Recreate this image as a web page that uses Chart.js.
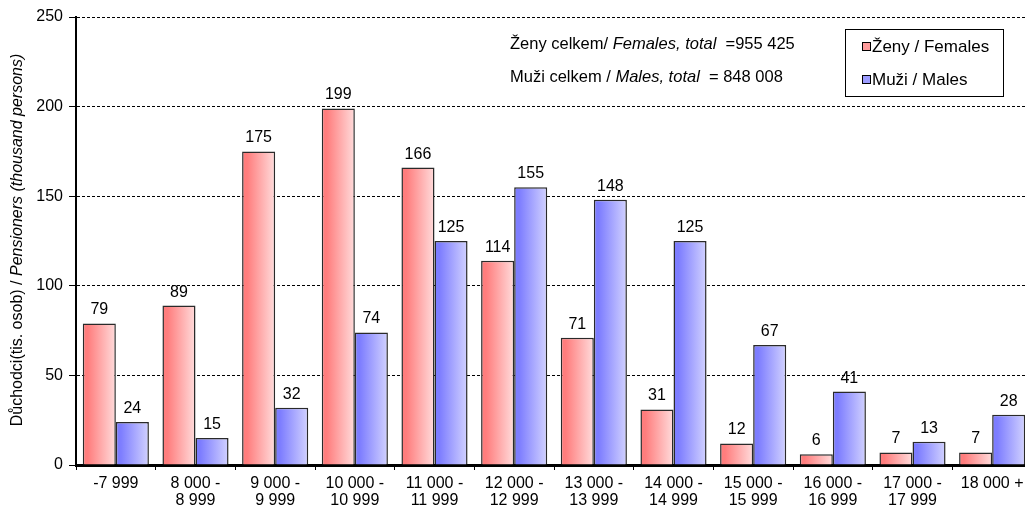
<!DOCTYPE html>
<html>
<head>
<meta charset="utf-8">
<script src="https://cdn.jsdelivr.net/npm/chart.js@4.4.1/dist/chart.umd.min.js"></script>
<style>
html, body { margin: 0; padding: 0; background: #fff; overflow: hidden; }
#wrap { width: 1040px; height: 506px; }
</style>
</head>
<body>
<div id="wrap"><canvas id="myChart"></canvas></div>
<script>
/*** Data ***/
const categories = [
    "-7 999", ["8 000 -", "8 999"], ["9 000 -", "9 999"], ["10 000 -", "10 999"],
    ["11 000 -", "11 999"], ["12 000 -", "12 999"], ["13 000 -", "13 999"], ["14 000 -", "14 999"],
    ["15 000 -", "15 999"], ["16 000 -", "16 999"], ["17 000 -", "17 999"], "18 000 +"
];
const females = [79, 89, 175, 199, 166, 114, 71, 31, 12, 6, 7, 7];
const males = [24, 15, 32, 74, 125, 155, 148, 125, 67, 41, 13, 28];
const yTicks = [0, 50, 100, 150, 200, 250];
const seriesNames = ["Ženy / Females", "Muži / Males"];
// [text, italic]
const yTitle = [["Důchodci(tis. osob) / ", false], ["Pensioners (thousand persons)", true]];
const totals = [
    [["Ženy celkem/ ", false], ["Females, total", true], ["  =955 425", false]],
    [["Muži celkem / ", false], ["Males, total", true], ["  = 848 008", false]]
];

const FONT = '"Liberation Sans", Arial, sans-serif';

/*** Plugins ***/
function drawSegments(ctx, segs, x, y, size) {
    segs.forEach(([txt, it]) => {
        ctx.font = (it ? "italic " : "") + size + "px " + FONT;
        ctx.fillText(txt, x, y);
        x += ctx.measureText(txt).width;
    });
}
function segWidth(ctx, segs, size) {
    let w = 0;
    segs.forEach(([txt, it]) => {
        ctx.font = (it ? "italic " : "") + size + "px " + FONT;
        w += ctx.measureText(txt).width;
    });
    return w;
}

const gradientBars = {
    id: "gradientBars",
    beforeDatasetsDraw(chart) {
        const ctx = chart.ctx;
        chart.data.datasets.forEach((ds, i) => {
            chart.getDatasetMeta(i).data.forEach(bar => {
                const g = ctx.createLinearGradient(bar.x - bar.width / 2, 0, bar.x + bar.width / 2, 0);
                g.addColorStop(0, ds.gradFrom);
                g.addColorStop(0.15, ds.gradFrom);
                g.addColorStop(1, ds.gradTo);
                bar.options = Object.assign({}, bar.options, { backgroundColor: g });
            });
        });
    }
};

const valueLabels = {
    id: "valueLabels",
    afterDatasetsDraw(chart) {
        const ctx = chart.ctx;
        ctx.save();
        ctx.font = "16px " + FONT;
        ctx.fillStyle = "#000";
        ctx.textAlign = "center";
        ctx.textBaseline = "alphabetic";
        chart.data.datasets.forEach((ds, i) => {
            chart.getDatasetMeta(i).data.forEach((bar, j) => {
                ctx.fillText(ds.data[j], bar.x, bar.y - 9);
            });
        });
        ctx.restore();
    }
};

const extras = {
    id: "extras",
    afterDraw(chart) {
        const ctx = chart.ctx;
        ctx.save();
        ctx.fillStyle = "#000";
        ctx.textBaseline = "middle";
        ctx.textAlign = "left";

        // y axis title
        ctx.save();
        ctx.translate(18, 240);
        ctx.rotate(-Math.PI / 2);
        const tw = segWidth(ctx, yTitle, 16);
        drawSegments(ctx, yTitle, -tw / 2, 0, 16);
        ctx.restore();

        // totals
        drawSegments(ctx, totals[0], 510, 44, 16.5);
        drawSegments(ctx, totals[1], 510, 77, 16.5);

        // legend
        ctx.lineWidth = 1;
        ctx.strokeStyle = "#000";
        ctx.strokeRect(845.5, 29.5, 158, 67);
        const ly = [47, 80];
        chart.data.datasets.forEach((ds, i) => {
            ctx.fillStyle = ds.legendColor;
            ctx.fillRect(862.5, ly[i] - 4.5, 8, 8);
            ctx.strokeRect(862.5, ly[i] - 4.5, 8, 8);
            ctx.fillStyle = "#000";
            ctx.font = "17px " + FONT;
            ctx.fillText(ds.label, 872, ly[i]);
        });
        ctx.restore();
    }
};

/*** Chart ***/
function renderChart() {
    const ctx = document.getElementById("myChart").getContext("2d");
    window.myChart = new Chart(ctx, {
        type: "bar",
        data: {
            labels: categories,
            datasets: [{
                label: seriesNames[0],
                data: females,
                gradFrom: "#ff7d7d",
                gradTo: "#ffdcdc",
                legendColor: "#ff9c9c",
                borderColor: "#2a2a2a",
                borderWidth: 1.5,
                borderSkipped: "bottom"
            }, {
                label: seriesNames[1],
                data: males,
                gradFrom: "#7d7dff",
                gradTo: "#d2d2ff",
                legendColor: "#9c9cff",
                borderColor: "#2a2a2a",
                borderWidth: 1.5,
                borderSkipped: "bottom"
            }]
        },
        options: {
            responsive: true,
            maintainAspectRatio: false,
            animation: false,
            datasets: { bar: { categoryPercentage: 0.83, barPercentage: 1.0 } },
            layout: { padding: { left: 0, top: 17, right: 8, bottom: 0 } },
            plugins: { legend: { display: false }, tooltip: { enabled: false } },
            scales: {
                x: {
                    afterFit(scale) { scale.height = 41; },
                    grid: { display: true, drawOnChartArea: false, drawTicks: true, offset: true, tickLength: 5, tickColor: "#000", tickWidth: 1 },
                    border: { display: true, color: "#000", width: 3 },
                    ticks: { color: "#000", font: { family: FONT, size: 16, lineHeight: 1.08 }, padding: 5, maxRotation: 0, autoSkip: false }
                },
                y: {
                    min: 0,
                    max: 250,
                    afterFit(scale) { scale.width = 76; },
                    afterBuildTicks(scale) { scale.ticks = yTicks.map(v => ({ value: v })); },
                    grid: { color: "#000", lineWidth: 1, drawTicks: true, tickLength: 7, tickColor: "#000", tickWidth: 1 },
                    border: { display: true, color: "#000", width: 2, dash: [3, 2] },
                    ticks: { color: "#000", font: { family: FONT, size: 16 }, padding: 6 }
                }
            }
        },
        plugins: [gradientBars, valueLabels, extras]
    });
}
renderChart();
</script>
</body>
</html>
